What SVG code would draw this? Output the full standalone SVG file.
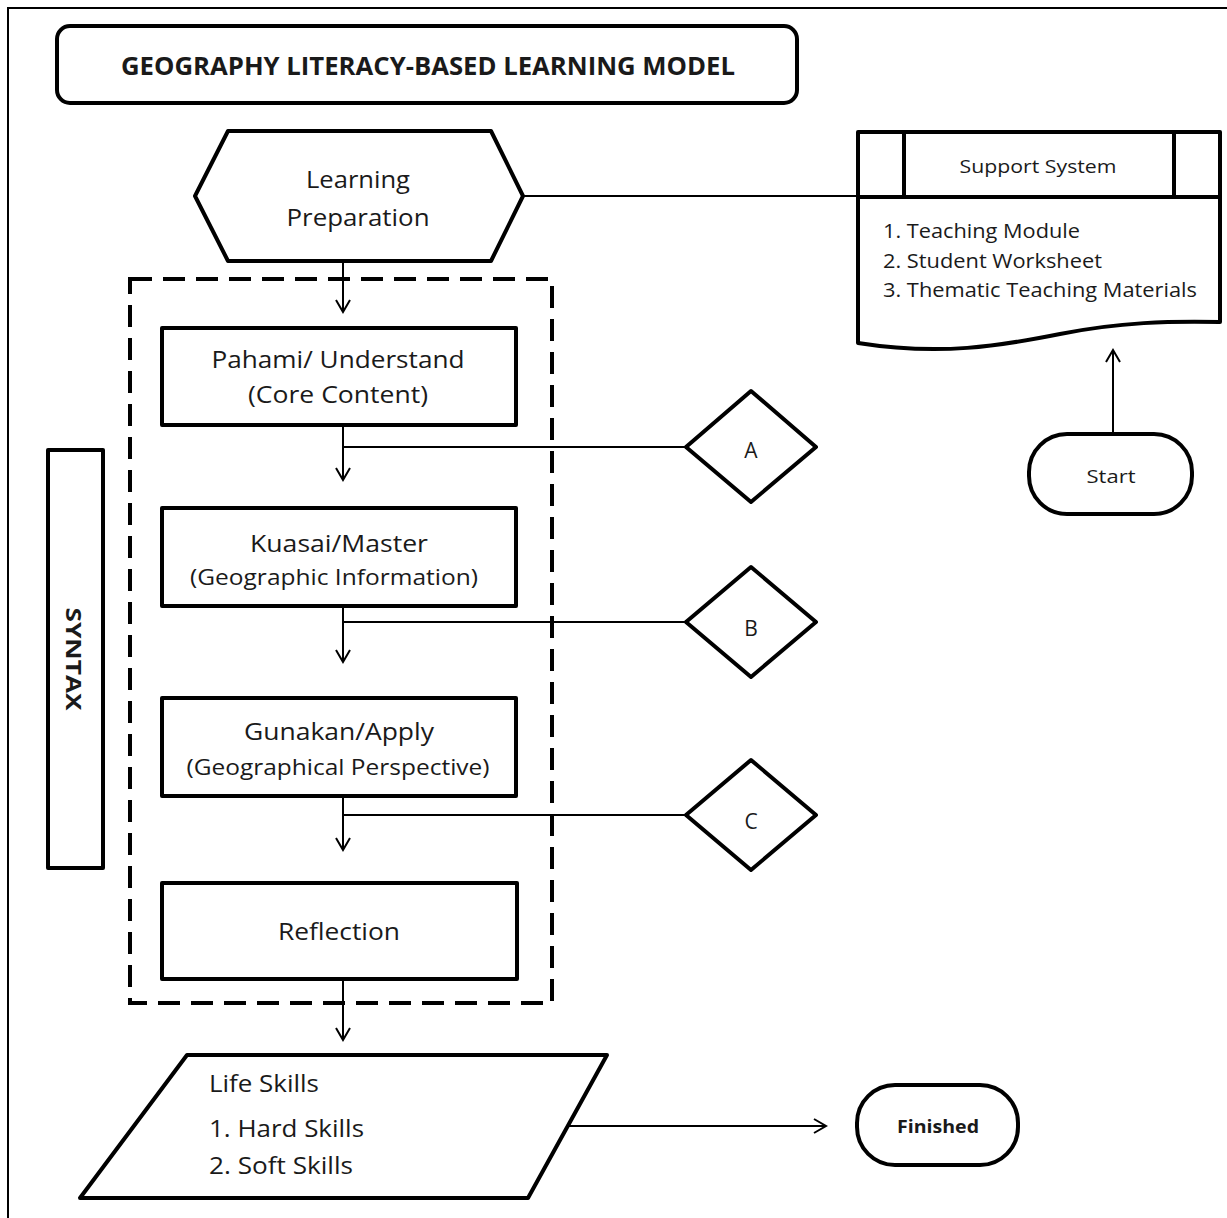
<svg xmlns="http://www.w3.org/2000/svg" width="1227" height="1218" viewBox="0 0 1227 1218">
<style>
.shape{fill:#fff;stroke:#000;stroke-width:4;stroke-linejoin:round}
.conn{fill:none;stroke:#000;stroke-width:2}
text{font-family:"Open Sans","Liberation Sans",sans-serif;fill:#1a1a1a}
.m{text-anchor:middle;font-size:24px}
.s{text-anchor:middle;font-size:21px}
.l{font-size:20px}
.b{font-weight:bold}
</style>
<defs>
<marker id="arr" markerUnits="userSpaceOnUse" markerWidth="16" markerHeight="18" refX="13" refY="8" orient="auto" viewBox="0 0 16 16">
<path d="M1,1 L13,8 L1,15" fill="none" stroke="#000" stroke-width="2"/>
</marker>
</defs>
<rect width="1227" height="1218" fill="#fff"/>
<path d="M8,1218 V8 H1227" fill="none" stroke="#000" stroke-width="2"/>

<g id="title">
<rect class="shape" x="57" y="26" width="740" height="77" rx="13"/>
<text class="b" x="428" y="75" text-anchor="middle" font-size="25" textLength="614" lengthAdjust="spacingAndGlyphs">GEOGRAPHY LITERACY-BASED LEARNING MODEL</text>
</g>

<g id="syntax-frame">
<rect x="130" y="279" width="422" height="724" fill="none" stroke="#000" stroke-width="4" stroke-dasharray="22,11"/>
</g>

<g id="connectors">
<line class="conn" x1="523" y1="196" x2="858" y2="196"/>
<line class="conn" x1="1113" y1="434" x2="1113" y2="350" marker-end="url(#arr)"/>
<line class="conn" x1="343" y1="262" x2="343" y2="312" marker-end="url(#arr)"/>
<line class="conn" x1="343" y1="425" x2="343" y2="480" marker-end="url(#arr)"/>
<line class="conn" x1="343" y1="447" x2="686" y2="447"/>
<line class="conn" x1="343" y1="606" x2="343" y2="662" marker-end="url(#arr)"/>
<line class="conn" x1="343" y1="622" x2="686" y2="622"/>
<line class="conn" x1="343" y1="796" x2="343" y2="850" marker-end="url(#arr)"/>
<line class="conn" x1="343" y1="815" x2="686" y2="815"/>
<line class="conn" x1="343" y1="979" x2="343" y2="1040" marker-end="url(#arr)"/>
<line class="conn" x1="568" y1="1126" x2="826" y2="1126" marker-end="url(#arr)"/>
</g>

<g id="learning-preparation">
<polygon class="shape" points="195,196 228,131 491,131 523,196 491,261 228,261"/>
<text class="m" x="358" y="188" textLength="104" lengthAdjust="spacingAndGlyphs">Learning</text>
<text class="m" x="358" y="226" textLength="143" lengthAdjust="spacingAndGlyphs">Preparation</text>
</g>

<g id="support-system">
<path class="shape" d="M858,132 H1220 V322 C1170,321 1120,322 1060,334 C1000,346 940,356 858,343 Z"/>
<line x1="858" y1="197" x2="1220" y2="197" stroke="#000" stroke-width="4"/>
<line x1="904" y1="132" x2="904" y2="197" stroke="#000" stroke-width="4"/>
<line x1="1174" y1="132" x2="1174" y2="197" stroke="#000" stroke-width="4"/>
<text x="1038" y="173" text-anchor="middle" font-size="19" textLength="157" lengthAdjust="spacingAndGlyphs">Support System</text>
<text class="l" x="883" y="238" textLength="197" lengthAdjust="spacingAndGlyphs">1. Teaching Module</text>
<text class="l" x="883" y="268" textLength="219" lengthAdjust="spacingAndGlyphs">2. Student Worksheet</text>
<text class="l" x="883" y="297" textLength="314" lengthAdjust="spacingAndGlyphs">3. Thematic Teaching Materials</text>
</g>

<g id="start">
<rect class="shape" x="1029" y="434" width="163" height="80" rx="38"/>
<text x="1111" y="483" text-anchor="middle" font-size="18" textLength="49" lengthAdjust="spacingAndGlyphs">Start</text>
</g>

<g id="understand">
<rect class="shape" x="162" y="328" width="354" height="97"/>
<text class="m" x="338" y="368" textLength="253" lengthAdjust="spacingAndGlyphs">Pahami/ Understand</text>
<text class="m" x="338" y="403" textLength="180" lengthAdjust="spacingAndGlyphs">(Core Content)</text>
</g>

<g id="master">
<rect class="shape" x="162" y="508" width="354" height="98"/>
<text class="m" x="339" y="552" textLength="178" lengthAdjust="spacingAndGlyphs">Kuasai/Master</text>
<text class="s" x="334" y="585" textLength="288" lengthAdjust="spacingAndGlyphs">(Geographic Information)</text>
</g>

<g id="apply">
<rect class="shape" x="162" y="698" width="354" height="98"/>
<text class="m" x="339" y="740" textLength="190" lengthAdjust="spacingAndGlyphs">Gunakan/Apply</text>
<text class="s" x="338" y="775" textLength="303" lengthAdjust="spacingAndGlyphs">(Geographical Perspective)</text>
</g>

<g id="reflection">
<rect class="shape" x="162" y="883" width="355" height="96"/>
<text class="m" x="339" y="940" textLength="122" lengthAdjust="spacingAndGlyphs">Reflection</text>
</g>

<g id="diamond-a">
<polygon class="shape" points="686,447 751,391 816,447 751,502"/>
<text class="s" x="751" y="458">A</text>
</g>
<g id="diamond-b">
<polygon class="shape" points="686,622 751,567 816,622 751,677"/>
<text class="s" x="751" y="636">B</text>
</g>
<g id="diamond-c">
<polygon class="shape" points="686,815 751,760 816,815 751,870"/>
<text class="s" x="751" y="829">C</text>
</g>

<g id="syntax">
<rect class="shape" x="48" y="450" width="55" height="418"/>
<text class="b" transform="translate(66,659) rotate(90)" text-anchor="middle" font-size="22" textLength="103" lengthAdjust="spacingAndGlyphs">SYNTAX</text>
</g>

<g id="life-skills">
<polygon class="shape" points="187,1055 607,1055 528,1198 80,1198"/>
<text x="209" y="1092" font-size="24" textLength="110" lengthAdjust="spacingAndGlyphs">Life Skills</text>
<text x="209" y="1137" font-size="24" textLength="155" lengthAdjust="spacingAndGlyphs">1. Hard Skills</text>
<text x="209" y="1174" font-size="24" textLength="144" lengthAdjust="spacingAndGlyphs">2. Soft Skills</text>
</g>

<g id="finished">
<rect class="shape" x="857" y="1085" width="161" height="80" rx="38"/>
<text class="b" x="938" y="1133" text-anchor="middle" font-size="18" textLength="82" lengthAdjust="spacingAndGlyphs">Finished</text>
</g>
</svg>
